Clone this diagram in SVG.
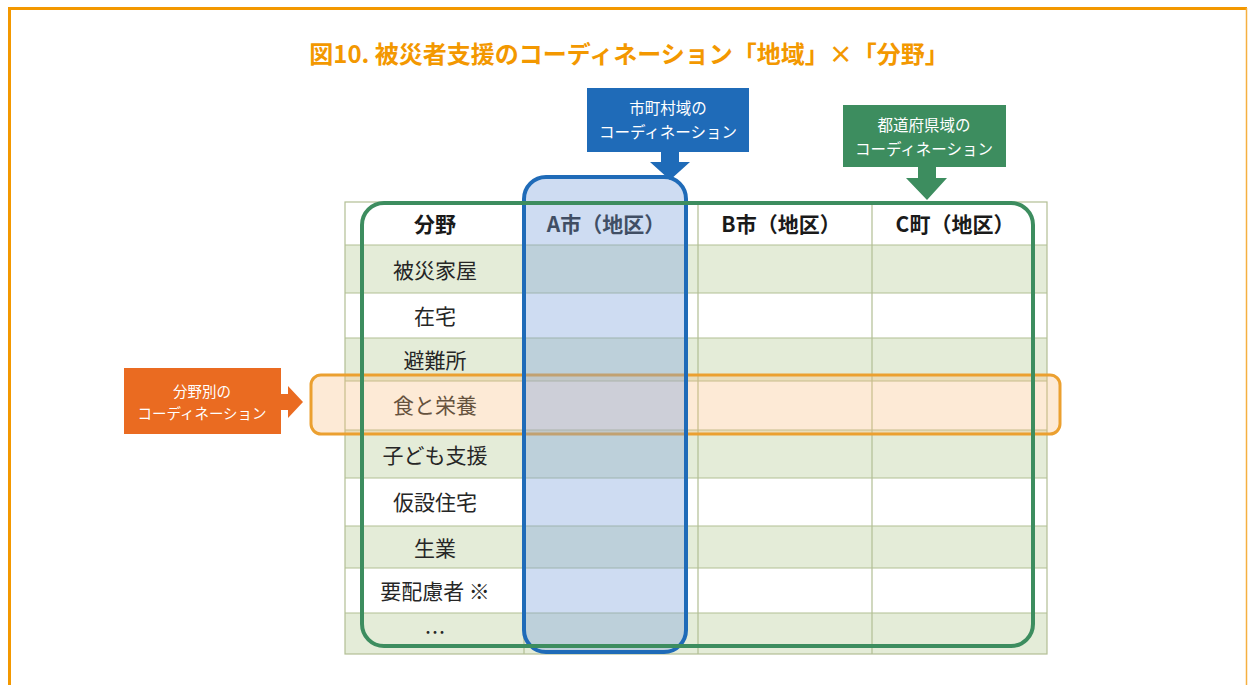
<svg xmlns="http://www.w3.org/2000/svg" width="1248" height="685" viewBox="0 0 1248 685">
<style>
text{font-family:"Noto Sans CJK JP","Noto Sans",sans-serif;}
.title{font-size:24px;font-weight:bold;fill:#f39800;}
.hdr{font-size:21px;font-weight:bold;fill:#1a1a1a;text-anchor:middle;}
.lbl{font-size:21px;fill:#262626;text-anchor:middle;}
.call{font-size:15.5px;fill:#ffffff;text-anchor:middle;}
.callo{font-size:14.5px;fill:#ffffff;text-anchor:middle;}
.grid{stroke:#b2bf94;stroke-width:1.2;fill:none;}
.rowg{fill:#e4ecd8;}
</style>
<rect x="0" y="0" width="1248" height="685" fill="#ffffff"/>
<g id="frame">
<line x1="8" y1="8.5" x2="1247" y2="8.5" stroke="#f39800" stroke-width="3"/>
<line x1="9.5" y1="7" x2="9.5" y2="685" stroke="#f39800" stroke-width="3"/>
<line x1="1246.5" y1="8" x2="1246.5" y2="685" stroke="#f5b041" stroke-width="1.5"/>
</g>
<text class="title" x="629" y="63" text-anchor="middle">図10. 被災者支援のコーディネーション「地域」×「分野」</text>
<g id="table">
<rect x="345" y="202" width="702" height="452" fill="#ffffff"/>
<rect class="rowg" x="345" y="245" width="702" height="48"/>
<rect class="rowg" x="345" y="338" width="702" height="43"/>
<rect class="rowg" x="345" y="430" width="702" height="48"/>
<rect class="rowg" x="345" y="526" width="702" height="42"/>
<rect class="rowg" x="345" y="613" width="702" height="41"/>
<rect class="grid" x="345" y="202" width="702" height="452"/>
<path class="grid" d="M345 245H1047M345 293H1047M345 338H1047M345 381H1047M345 430H1047M345 478H1047M345 526H1047M345 568H1047M345 613H1047M524 202V654M698 202V654M872 202V654"/>
<text class="hdr" x="435" y="232">分野</text>
<text class="hdr" x="606" y="232">A市（地区）</text>
<text class="hdr" x="781" y="232">B市（地区）</text>
<text class="hdr" x="955" y="232">C町（地区）</text>
<text class="lbl" x="435" y="278">被災家屋</text>
<text class="lbl" x="435" y="324">在宅</text>
<text class="lbl" x="435" y="368">避難所</text>
<text class="lbl" x="435" y="413">食と栄養</text>
<text class="lbl" x="435" y="463">子ども支援</text>
<text class="lbl" x="435" y="510">仮設住宅</text>
<text class="lbl" x="435" y="556">生業</text>
<text class="lbl" x="435" y="599">要配慮者 ※</text>
<text class="lbl" x="435" y="640">…</text>
</g>
<g id="field-highlight">
<rect x="311" y="375" width="749" height="59" rx="10" fill="#f7b978" fill-opacity="0.3" stroke="#eba030" stroke-width="3"/>
</g>
<g id="municipal-highlight">
<rect x="524" y="177" width="162" height="475" rx="22" fill="#7fa2dc" fill-opacity="0.38" stroke="#1f6bb8" stroke-width="4"/>
</g>
<g id="prefecture-highlight">
<rect x="362" y="203" width="671" height="443" rx="22" fill="none" stroke="#3d8d5f" stroke-width="4"/>
</g>
<g id="connectors">
<path d="M661 152H679V162H690L670 180L650 162H661Z" fill="#1f6bb8"/>
<path d="M918 167H936V178H947L927 200L906 178H918Z" fill="#3d8d5f"/>
<path d="M281 394H288V386L303 402L288 418V410H281Z" fill="#ea6b21"/>
</g>
<g id="callout-municipal">
<rect x="587" y="88" width="162" height="64" fill="#1f6bb8"/>
<text class="call" x="668" y="114">市町村域の</text>
<text class="call" x="668" y="138">コーディネーション</text>
</g>
<g id="callout-prefecture">
<rect x="843" y="105" width="163" height="62" fill="#3d8d5f"/>
<text class="call" x="924" y="131">都道府県域の</text>
<text class="call" x="924" y="155">コーディネーション</text>
</g>
<g id="callout-field">
<rect x="124" y="368" width="157" height="66" fill="#ea6b21"/>
<text class="callo" x="202" y="397">分野別の</text>
<text class="callo" x="202" y="419">コーディネーション</text>
</g>
</svg>
